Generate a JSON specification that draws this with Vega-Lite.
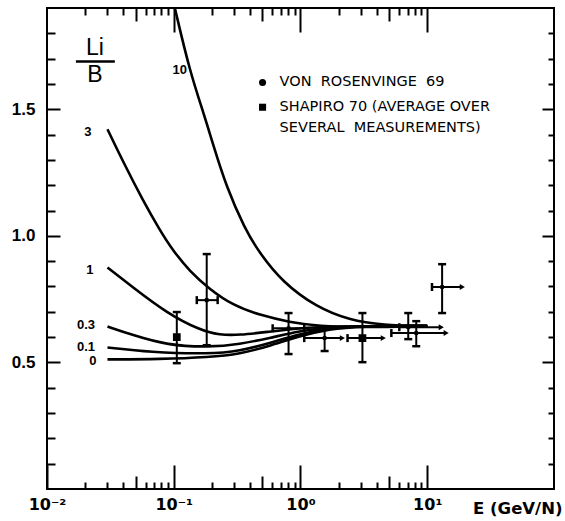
{
  "$schema": "https://vega.github.io/schema/vega-lite/v6.json",
  "width": 507,
  "height": 481,
  "autosize": {"type": "none"},
  "padding": {"left": 47, "top": 8, "right": 11, "bottom": 32},
  "background": "white",
  "config": {
    "view": {"stroke": "black", "strokeWidth": 2},
    "axis": {"domain": false, "grid": false, "tickColor": "black", "tickWidth": 2, "labelColor": "black", "titleColor": "black"}
  },
  "datasets": {
    "curves": [
      {"c": "10", "x": 0.102, "y": 1.9}, {"c": "10", "x": 0.1337, "y": 1.65}, {"c": "10", "x": 0.1754, "y": 1.472}, {"c": "10", "x": 0.2028, "y": 1.366}, {"c": "10", "x": 0.261, "y": 1.192}, {"c": "10", "x": 0.362, "y": 1.03}, {"c": "10", "x": 0.475, "y": 0.932}, {"c": "10", "x": 0.721, "y": 0.817}, {"c": "10", "x": 1.337, "y": 0.718}, {"c": "10", "x": 2.43, "y": 0.667}, {"c": "10", "x": 4.43, "y": 0.647}, {"c": "10", "x": 10, "y": 0.643},
      {"c": "3", "x": 0.03, "y": 1.421}, {"c": "3", "x": 0.0411, "y": 1.279}, {"c": "3", "x": 0.057, "y": 1.141}, {"c": "3", "x": 0.0777, "y": 1.022}, {"c": "3", "x": 0.0982, "y": 0.943}, {"c": "3", "x": 0.1337, "y": 0.86}, {"c": "3", "x": 0.192, "y": 0.789}, {"c": "3", "x": 0.292, "y": 0.726}, {"c": "3", "x": 0.475, "y": 0.687}, {"c": "3", "x": 0.819, "y": 0.659}, {"c": "3", "x": 1.41, "y": 0.643}, {"c": "3", "x": 2.92, "y": 0.639}, {"c": "3", "x": 10, "y": 0.643},
      {"c": "1", "x": 0.03, "y": 0.875}, {"c": "1", "x": 0.0475, "y": 0.797}, {"c": "1", "x": 0.0881, "y": 0.695}, {"c": "1", "x": 0.16, "y": 0.628}, {"c": "1", "x": 0.23, "y": 0.608}, {"c": "1", "x": 0.331, "y": 0.608}, {"c": "1", "x": 0.54, "y": 0.62}, {"c": "1", "x": 0.982, "y": 0.635}, {"c": "1", "x": 1.69, "y": 0.643}, {"c": "1", "x": 10, "y": 0.643},
      {"c": "0.3", "x": 0.03, "y": 0.642}, {"c": "0.3", "x": 0.0475, "y": 0.608}, {"c": "0.3", "x": 0.0881, "y": 0.568}, {"c": "0.3", "x": 0.192, "y": 0.56}, {"c": "0.3", "x": 0.331, "y": 0.572}, {"c": "0.3", "x": 0.57, "y": 0.596}, {"c": "0.3", "x": 0.982, "y": 0.624}, {"c": "0.3", "x": 1.69, "y": 0.639}, {"c": "0.3", "x": 2.92, "y": 0.643}, {"c": "0.3", "x": 10, "y": 0.645},
      {"c": "0.1", "x": 0.03, "y": 0.559}, {"c": "0.1", "x": 0.0647, "y": 0.54}, {"c": "0.1", "x": 0.192, "y": 0.533}, {"c": "0.1", "x": 0.331, "y": 0.545}, {"c": "0.1", "x": 0.57, "y": 0.576}, {"c": "0.1", "x": 0.982, "y": 0.612}, {"c": "0.1", "x": 1.69, "y": 0.635}, {"c": "0.1", "x": 2.92, "y": 0.643}, {"c": "0.1", "x": 10, "y": 0.645},
      {"c": "0", "x": 0.03, "y": 0.512}, {"c": "0", "x": 0.0777, "y": 0.513}, {"c": "0", "x": 0.192, "y": 0.521}, {"c": "0", "x": 0.331, "y": 0.533}, {"c": "0", "x": 0.57, "y": 0.565}, {"c": "0", "x": 0.982, "y": 0.604}, {"c": "0", "x": 1.69, "y": 0.632}, {"c": "0", "x": 2.92, "y": 0.643}, {"c": "0", "x": 10, "y": 0.645}
    ],
    "points": [
      {"src": "SHAPIRO 70", "x": 0.1057, "y": 0.6, "ylo": 0.497, "yhi": 0.699, "xlo": null, "xhi": null, "end": "none"},
      {"src": "VON ROSENVINGE 69", "x": 0.182, "y": 0.746, "ylo": 0.568, "yhi": 0.928, "xlo": 0.152, "xhi": 0.222, "end": "cap"},
      {"src": "VON ROSENVINGE 69", "x": 0.805, "y": 0.635, "ylo": 0.533, "yhi": 0.695, "xlo": 0.603, "xhi": 1.07, "end": "cap"},
      {"src": "VON ROSENVINGE 69", "x": 1.55, "y": 0.596, "ylo": 0.545, "yhi": 0.643, "xlo": 1.07, "xhi": 2.14, "end": "arrow"},
      {"src": "SHAPIRO 70", "x": 3.08, "y": 0.596, "ylo": 0.501, "yhi": 0.695, "xlo": 2.35, "xhi": 4.5, "end": "arrow"},
      {"src": "VON ROSENVINGE 69", "x": 7.08, "y": 0.639, "ylo": 0.592, "yhi": 0.695, "xlo": 6.02, "xhi": 12.9, "end": "arrow"},
      {"src": "VON ROSENVINGE 69", "x": 8.19, "y": 0.616, "ylo": 0.564, "yhi": 0.663, "xlo": 5.21, "xhi": 14.1, "end": "arrow"},
      {"src": "VON ROSENVINGE 69", "x": 13.1, "y": 0.798, "ylo": 0.695, "yhi": 0.888, "xlo": 10.9, "xhi": 18.9, "end": "arrow"}
    ],
    "curvelabels": [
      {"t": "10", "x": 0.1114, "y": 1.654}, {"t": "3", "x": 0.021, "y": 1.409}, {"t": "1", "x": 0.0218, "y": 0.864},
      {"t": "0.3", "x": 0.0203, "y": 0.647}, {"t": "0.1", "x": 0.0203, "y": 0.56}, {"t": "0", "x": 0.023, "y": 0.505}
    ],
    "fraction": [{"t": "Li", "x": 0.0239, "y": 1.741}, {"t": "B", "x": 0.0239, "y": 1.634}],
    "fracline": [{"x": 0.0169, "x2": 0.0343, "y": 1.689}],
    "legendtext": [
      {"t": "VON\u00a0 ROSENVINGE\u00a0 69", "x": 0.684, "y": 1.606},
      {"t": "SHAPIRO 70 (AVERAGE OVER", "x": 0.684, "y": 1.508},
      {"t": "SEVERAL\u00a0 MEASUREMENTS)", "x": 0.684, "y": 1.425}
    ],
    "legendsym": [
      {"src": "VON ROSENVINGE 69", "x": 0.502, "y": 1.606},
      {"src": "SHAPIRO 70", "x": 0.502, "y": 1.508}
    ]
  },
  "resolve": {"axis": {"x": "independent", "y": "independent"}},
  "layer": [
    {
      "data": {"name": "curves"},
      "mark": {"type": "line", "color": "black", "strokeWidth": 2.6, "interpolate": "basis", "clip": true},
      "encoding": {
        "detail": {"field": "c"},
        "x": {"field": "x", "type": "quantitative", "scale": {"type": "log", "domain": [0.01, 100], "nice": false},
          "axis": {
            "orient": "bottom",
            "values": [0.01, 0.02, 0.03, 0.04, 0.05, 0.06, 0.07, 0.08, 0.09, 0.1, 0.2, 0.3, 0.4, 0.5, 0.6, 0.7, 0.8, 0.9, 1, 2, 3, 4, 5, 6, 7, 8, 9, 10],
            "labelExpr": "datum.value == 0.01 ? '10⁻²' : datum.value == 0.1 ? '10⁻¹' : datum.value == 1 ? '10⁰' : datum.value == 10 ? '10¹' : ''",
            "labelOverlap": false, "labelFlush": false, "labelBound": false,
            "labelFont": "DejaVu Sans", "labelFontSize": 16, "labelFontWeight": "bold", "labelPadding": 31,
            "tickSize": {"condition": [
              {"test": "abs(log(datum.value)/LN10 - round(log(datum.value)/LN10)) < 0.001", "value": -24},
              {"test": "abs(log(datum.value/5)/LN10 - round(log(datum.value/5)/LN10)) < 0.001", "value": -13}
            ], "value": -7},
            "title": "E (GeV/N)", "titleFont": "DejaVu Sans", "titleFontSize": 16.5, "titleFontWeight": "bold",
            "titleAnchor": "end", "titleAlign": "right", "titleBaseline": "alphabetic", "titleX": 515, "titleY": 24
          }},
        "y": {"field": "y", "type": "quantitative", "scale": {"domain": [0, 1.9], "nice": false, "zero": false},
          "axis": {
            "orient": "left",
            "values": [0.1, 0.2, 0.3, 0.4, 0.5, 0.6, 0.7, 0.8, 0.9, 1, 1.1, 1.2, 1.3, 1.4, 1.5, 1.6, 1.7, 1.8],
            "labelExpr": "abs(datum.value*2 - round(datum.value*2)) < 0.001 ? format(datum.value, '.1f') : ''",
            "labelOverlap": false, "labelBound": false, "labelFlush": false,
            "labelFont": "Liberation Sans", "labelFontSize": 17, "labelFontWeight": "bold", "labelPadding": 25,
            "tickSize": {"condition": {"test": "abs(datum.value*2 - round(datum.value*2)) < 0.001", "value": -13}, "value": -8},
            "title": null
          }}
      }
    },
    {
      "data": {"name": "curvelabels"},
      "mark": {"type": "text", "font": "Liberation Sans", "fontSize": 13, "fontWeight": "bold", "align": "center", "baseline": "middle", "color": "black"},
      "encoding": {
        "text": {"field": "t"},
        "x": {"field": "x", "type": "quantitative", "scale": {"type": "log", "domain": [0.01, 100], "nice": false},
          "axis": {
            "orient": "top", "labels": false, "title": null,
            "values": [0.02, 0.03, 0.04, 0.05, 0.06, 0.07, 0.08, 0.09, 0.1, 0.2, 0.3, 0.4, 0.5, 0.6, 0.7, 0.8, 0.9, 1, 2, 3, 4, 5, 6, 7, 8, 9, 10],
            "tickSize": {"condition": [
              {"test": "abs(log(datum.value)/LN10 - round(log(datum.value)/LN10)) < 0.001", "value": -24},
              {"test": "abs(log(datum.value/5)/LN10 - round(log(datum.value/5)/LN10)) < 0.001", "value": -13}
            ], "value": -7}
          }},
        "y": {"field": "y", "type": "quantitative", "scale": {"domain": [0, 1.9], "nice": false, "zero": false},
          "axis": {
            "orient": "right", "labels": false, "title": null,
            "values": [0.1, 0.2, 0.3, 0.4, 0.5, 0.6, 0.7, 0.8, 0.9, 1, 1.1, 1.2, 1.3, 1.4, 1.5, 1.6, 1.7, 1.8],
            "tickSize": {"condition": {"test": "abs(datum.value*2 - round(datum.value*2)) < 0.001", "value": -12}, "value": -6}
          }}
      }
    },
    {
      "data": {"name": "fraction"},
      "mark": {"type": "text", "font": "Liberation Sans", "fontSize": 23, "align": "center", "baseline": "middle", "color": "black"},
      "encoding": {
        "text": {"field": "t"},
        "x": {"field": "x", "type": "quantitative", "scale": {"type": "log", "domain": [0.01, 100], "nice": false}, "axis": null},
        "y": {"field": "y", "type": "quantitative", "scale": {"domain": [0, 1.9], "nice": false, "zero": false}, "axis": null}
      }
    },
    {
      "data": {"name": "fracline"},
      "mark": {"type": "rule", "color": "black", "strokeWidth": 2.5},
      "encoding": {
        "x": {"field": "x", "type": "quantitative", "scale": {"type": "log", "domain": [0.01, 100], "nice": false}, "axis": null},
        "x2": {"field": "x2"},
        "y": {"field": "y", "type": "quantitative", "scale": {"domain": [0, 1.9], "nice": false, "zero": false}, "axis": null}
      }
    },
    {
      "data": {"name": "legendtext"},
      "mark": {"type": "text", "font": "DejaVu Sans", "fontSize": 14.5, "align": "left", "baseline": "middle", "color": "black"},
      "encoding": {
        "text": {"field": "t"},
        "x": {"field": "x", "type": "quantitative", "scale": {"type": "log", "domain": [0.01, 100], "nice": false}, "axis": null},
        "y": {"field": "y", "type": "quantitative", "scale": {"domain": [0, 1.9], "nice": false, "zero": false}, "axis": null}
      }
    },
    {
      "data": {"name": "legendsym"},
      "mark": {"type": "point", "filled": true, "color": "black", "opacity": 1, "size": 50},
      "encoding": {
        "shape": {"field": "src", "type": "nominal", "scale": {"domain": ["VON ROSENVINGE 69", "SHAPIRO 70"], "range": ["circle", "square"]}, "legend": null},
        "x": {"field": "x", "type": "quantitative", "scale": {"type": "log", "domain": [0.01, 100], "nice": false}, "axis": null},
        "y": {"field": "y", "type": "quantitative", "scale": {"domain": [0, 1.9], "nice": false, "zero": false}, "axis": null}
      }
    },
    {
      "data": {"name": "points"},
      "mark": {"type": "rule", "color": "black", "strokeWidth": 2},
      "encoding": {
        "x": {"field": "x", "type": "quantitative", "scale": {"type": "log", "domain": [0.01, 100], "nice": false}, "axis": null},
        "y": {"field": "ylo", "type": "quantitative", "scale": {"domain": [0, 1.9], "nice": false, "zero": false}, "axis": null},
        "y2": {"field": "yhi"}
      }
    },
    {
      "data": {"name": "points"},
      "mark": {"type": "tick", "orient": "horizontal", "color": "black", "size": 8, "thickness": 2.5, "opacity": 1},
      "encoding": {
        "x": {"field": "x", "type": "quantitative", "scale": {"type": "log", "domain": [0.01, 100], "nice": false}, "axis": null},
        "y": {"field": "ylo", "type": "quantitative", "scale": {"domain": [0, 1.9], "nice": false, "zero": false}, "axis": null}
      }
    },
    {
      "data": {"name": "points"},
      "mark": {"type": "tick", "orient": "horizontal", "color": "black", "size": 8, "thickness": 2.5, "opacity": 1},
      "encoding": {
        "x": {"field": "x", "type": "quantitative", "scale": {"type": "log", "domain": [0.01, 100], "nice": false}, "axis": null},
        "y": {"field": "yhi", "type": "quantitative", "scale": {"domain": [0, 1.9], "nice": false, "zero": false}, "axis": null}
      }
    },
    {
      "data": {"name": "points"},
      "transform": [{"filter": "isValid(datum.xlo)"}],
      "mark": {"type": "rule", "color": "black", "strokeWidth": 2},
      "encoding": {
        "x": {"field": "xlo", "type": "quantitative", "scale": {"type": "log", "domain": [0.01, 100], "nice": false}, "axis": null},
        "x2": {"field": "xhi"},
        "y": {"field": "y", "type": "quantitative", "scale": {"domain": [0, 1.9], "nice": false, "zero": false}, "axis": null}
      }
    },
    {
      "data": {"name": "points"},
      "transform": [{"filter": "isValid(datum.xlo)"}],
      "mark": {"type": "tick", "orient": "vertical", "color": "black", "size": 8, "thickness": 2.5, "opacity": 1},
      "encoding": {
        "x": {"field": "xlo", "type": "quantitative", "scale": {"type": "log", "domain": [0.01, 100], "nice": false}, "axis": null},
        "y": {"field": "y", "type": "quantitative", "scale": {"domain": [0, 1.9], "nice": false, "zero": false}, "axis": null}
      }
    },
    {
      "data": {"name": "points"},
      "transform": [{"filter": "datum.end == 'cap'"}],
      "mark": {"type": "tick", "orient": "vertical", "color": "black", "size": 8, "thickness": 2.5, "opacity": 1},
      "encoding": {
        "x": {"field": "xhi", "type": "quantitative", "scale": {"type": "log", "domain": [0.01, 100], "nice": false}, "axis": null},
        "y": {"field": "y", "type": "quantitative", "scale": {"domain": [0, 1.9], "nice": false, "zero": false}, "axis": null}
      }
    },
    {
      "data": {"name": "points"},
      "transform": [{"filter": "datum.end == 'arrow'"}],
      "mark": {"type": "point", "shape": "triangle-right", "filled": true, "color": "black", "opacity": 1, "size": 35},
      "encoding": {
        "x": {"field": "xhi", "type": "quantitative", "scale": {"type": "log", "domain": [0.01, 100], "nice": false}, "axis": null},
        "y": {"field": "y", "type": "quantitative", "scale": {"domain": [0, 1.9], "nice": false, "zero": false}, "axis": null}
      }
    },
    {
      "data": {"name": "points"},
      "mark": {"type": "point", "filled": true, "color": "black", "opacity": 1},
      "encoding": {
        "shape": {"field": "src", "type": "nominal", "scale": {"domain": ["VON ROSENVINGE 69", "SHAPIRO 70"], "range": ["circle", "square"]}, "legend": null},
        "size": {"field": "src", "type": "nominal", "scale": {"domain": ["VON ROSENVINGE 69", "SHAPIRO 70"], "range": [22, 60]}, "legend": null},
        "x": {"field": "x", "type": "quantitative", "scale": {"type": "log", "domain": [0.01, 100], "nice": false}, "axis": null},
        "y": {"field": "y", "type": "quantitative", "scale": {"domain": [0, 1.9], "nice": false, "zero": false}, "axis": null}
      }
    }
  ]
}
